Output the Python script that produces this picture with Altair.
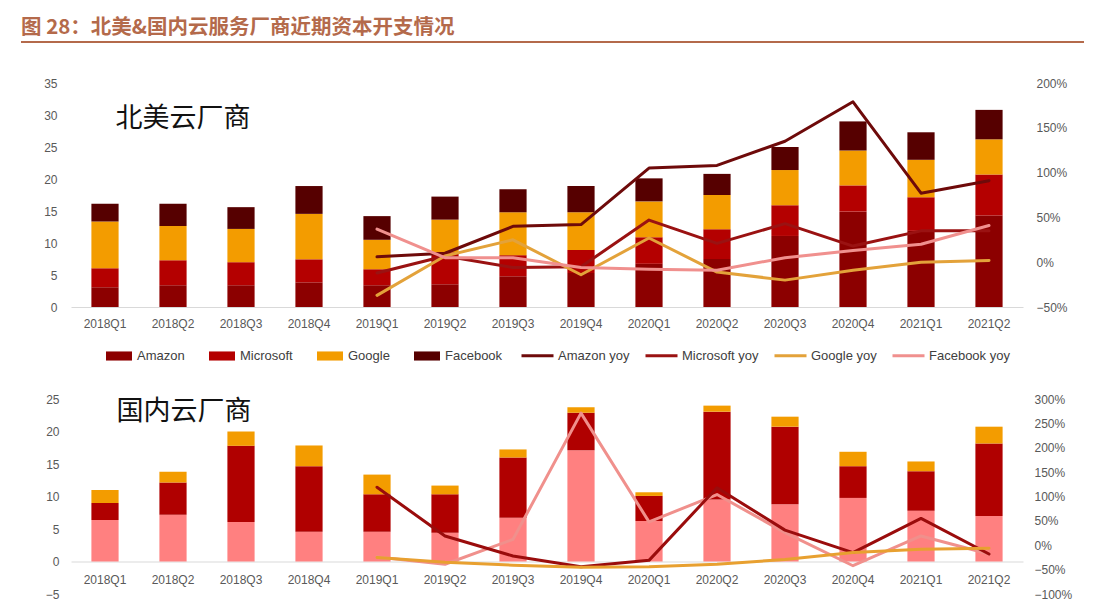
import altair as alt
import pandas as pd

# ---------------- data ----------------
quarters = ["2018Q1", "2018Q2", "2018Q3", "2018Q4", "2019Q1", "2019Q2", "2019Q3",
            "2019Q4", "2020Q1", "2020Q2", "2020Q3", "2020Q4", "2021Q1", "2021Q2"]
yoy_quarters = quarters[4:]

us_series = ["Amazon", "Microsoft", "Google", "Facebook"]
amazon = [3.1, 3.4, 3.4, 3.85, 3.4, 3.55, 4.8, 5.3, 6.75, 7.5, 11.1, 14.9, 11.9, 14.3]
microsoft = [2.95, 3.9, 3.6, 3.6, 2.5, 5.0, 3.3, 3.6, 4.15, 4.65, 4.8, 4.1, 5.25, 6.4]
google = [7.3, 5.35, 5.2, 7.1, 4.6, 5.1, 6.7, 5.9, 5.6, 5.35, 5.5, 5.45, 5.85, 5.5]
facebook = [2.8, 3.5, 3.4, 4.35, 3.7, 3.6, 3.6, 4.1, 3.6, 3.3, 3.6, 4.55, 4.3, 4.6]

us_yoy_series = ["Amazon yoy", "Microsoft yoy", "Google yoy", "Facebook yoy"]
amazon_yoy = [0.06, 0.10, 0.40, 0.42, 1.05, 1.08, 1.35, 1.79, 0.77, 0.91]
microsoft_yoy = [-0.12, 0.07, -0.06, -0.05, 0.47, 0.21, 0.43, 0.18, 0.35, 0.35]
google_yoy = [-0.37, 0.07, 0.25, -0.14, 0.27, -0.11, -0.20, -0.09, 0.00, 0.02]
facebook_yoy = [0.37, 0.05, 0.05, -0.06, -0.08, -0.09, 0.05, 0.13, 0.20, 0.41]

cn_series = ["阿里巴巴", "腾讯", "百度"]
cn_a = [6.4, 7.2, 6.07, 4.58, 4.58, 4.43, 6.74, 17.13, 6.23, 9.52, 8.8, 9.78, 7.82, 7.0]
cn_b = [2.6, 4.95, 11.73, 10.08, 5.76, 5.91, 9.26, 5.77, 3.86, 13.53, 11.94, 4.88, 6.07, 11.16]
cn_c = [2.0, 1.65, 2.2, 3.19, 3.03, 1.34, 1.24, 0.82, 0.56, 0.93, 1.54, 2.22, 1.5, 2.58]

cn_yoy_series = ["阿里巴巴 yoy", "腾讯 yoy", "百度 yoy"]
cn_a_yoy = [-0.24, -0.39, 0.12, 2.71, 0.48, 1.04, 0.26, -0.42, 0.19, -0.18]
cn_b_yoy = [1.19, 0.19, -0.22, -0.44, -0.31, 1.18, 0.31, -0.15, 0.55, -0.18]
cn_c_yoy = [-0.25, -0.35, -0.41, -0.45, -0.44, -0.39, -0.29, -0.15, -0.08, -0.06]

fig_title = "图 28：北美&国内云服务厂商近期资本开支情况"
top_label = "北美云厂商"
bottom_label = "国内云厂商"

# ---------------- styles ----------------
us_colors = ["#8C0000", "#B40000", "#F39C00", "#560000"]
us_line_colors = ["#6E0A0A", "#9A1212", "#E3A23A", "#F0908E"]
cn_colors = ["#FF8080", "#B00000", "#F39C00"]
cn_line_colors = ["#F0908C", "#9A0C0C", "#E8A030"]
title_color = "#B46A4B"
label_font = "Liberation Sans"
cjk_font = "Noto Sans CJK SC"

W = 952
H_TOP = 224
H_BOT = 195


def long_bars(names, arrays, cats):
    rows = []
    for i, (n, arr) in enumerate(zip(names, arrays)):
        for q, v in zip(cats, arr):
            rows.append({"quarter": q, "series": n, "value": v, "ord": i})
    return pd.DataFrame(rows)


df_us = long_bars(us_series, [amazon, microsoft, google, facebook], quarters)
df_us_yoy = long_bars(us_yoy_series, [amazon_yoy, microsoft_yoy, google_yoy, facebook_yoy], yoy_quarters)
df_cn = long_bars(cn_series, [cn_a, cn_b, cn_c], quarters)
df_cn_yoy = long_bars(cn_yoy_series, [cn_a_yoy, cn_b_yoy, cn_c_yoy], yoy_quarters)

xscale = alt.Scale(paddingInner=0.6, paddingOuter=0.3)
rect_path = "M-1,-0.35H1V0.35H-1Z"

# ---------------- top panel ----------------
x_top = alt.X("quarter:N", sort=quarters, scale=xscale, title=None,
              axis=alt.Axis(labelAngle=0, domain=True, domainColor="#D9D9D9", ticks=False,
                            tickSize=0, labelPadding=11, grid=False))

bars_top = alt.Chart(df_us).mark_bar().encode(
    x=x_top,
    y=alt.Y("value:Q", stack="zero", scale=alt.Scale(domain=[0, 35], nice=False), title=None,
            axis=alt.Axis(values=[0, 5, 10, 15, 20, 25, 30, 35], domain=False, ticks=False, tickSize=0,
                          grid=False, labelPadding=14, labelFlush=False)),
    fill=alt.Fill("series:N", scale=alt.Scale(domain=us_series, range=us_colors),
                  legend=alt.Legend(orient="none", legendX=35, legendY=260, direction="horizontal",
                                    title=None, symbolType=rect_path, symbolSize=676,
                                    symbolStrokeWidth=0, columnPadding=24, labelOffset=5,
                                    padding=0)),
    order=alt.Order("ord:Q", sort="ascending"),
)

lines_top = alt.Chart(df_us_yoy).mark_line(strokeWidth=3, strokeJoin="round", strokeCap="round").encode(
    x=alt.X("quarter:N", sort=quarters, scale=xscale),
    y=alt.Y("value:Q", scale=alt.Scale(domain=[-0.5, 2.0], nice=False), title=None,
            axis=alt.Axis(orient="right", format=".0%", values=[-0.5, 0, 0.5, 1.0, 1.5, 2.0],
                          domain=False, ticks=False, tickSize=0, grid=False, labelPadding=13,
                          labelFlush=False)),
    stroke=alt.Stroke("series:N", scale=alt.Scale(domain=us_yoy_series, range=us_line_colors),
                      legend=alt.Legend(orient="none", legendX=449, legendY=255, direction="horizontal",
                                        title=None, symbolType="stroke", symbolSize=1024,
                                        symbolStrokeWidth=3, columnPadding=9, labelOffset=3,
                                        padding=0)),
    order=alt.Order("ord:Q"),
)

title_layer = alt.Chart(pd.DataFrame({"t": [fig_title]})).mark_text(
    align="left", baseline="middle", font=cjk_font, fontSize=20.5, fontWeight="bold", color=title_color
).encode(x=alt.value(-50), y=alt.value(-55), text="t:N")

rule_layer = alt.Chart(pd.DataFrame({"t": [fig_title]})).mark_rule(
    color=title_color, strokeWidth=2
).encode(x=alt.value(-50), x2=alt.value(1013), y=alt.value(-41))

top_text = alt.Chart(pd.DataFrame({"t": [top_label]})).mark_text(
    align="center", baseline="middle", font=cjk_font, fontSize=27, color="#111111"
).encode(x=alt.value(112), y=alt.value(36), text="t:N")

top = alt.layer(bars_top, lines_top, top_text, title_layer, rule_layer).resolve_scale(
    y="independent").properties(width=W, height=H_TOP)

# ---------------- bottom panel ----------------
x_bot = alt.X("quarter:N", sort=quarters, scale=xscale, title=None,
              axis=alt.Axis(labelAngle=0, domain=True, domainColor="#D9D9D9", ticks=False,
                            tickSize=0, labelPadding=13, grid=False, offset=-32.5))

bars_bot = alt.Chart(df_cn).mark_bar().encode(
    x=x_bot,
    y=alt.Y("value:Q", stack="zero", scale=alt.Scale(domain=[-5, 25], nice=False), title=None,
            axis=alt.Axis(values=[-5, 0, 5, 10, 15, 20, 25], domain=False, ticks=False, tickSize=0,
                          grid=False, labelPadding=12, labelFlush=False)),
    fill=alt.Fill("series:N", scale=alt.Scale(domain=cn_series, range=cn_colors), legend=None),
    order=alt.Order("ord:Q", sort="ascending"),
)

lines_bot = alt.Chart(df_cn_yoy).mark_line(strokeWidth=3, strokeJoin="round", strokeCap="round").encode(
    x=alt.X("quarter:N", sort=quarters, scale=xscale),
    y=alt.Y("value:Q", scale=alt.Scale(domain=[-1.0, 3.0], nice=False), title=None,
            axis=alt.Axis(orient="right", format=".0%",
                          values=[-1.0, -0.5, 0, 0.5, 1.0, 1.5, 2.0, 2.5, 3.0],
                          domain=False, ticks=False, tickSize=0, grid=False, labelPadding=11,
                          labelFlush=False)),
    stroke=alt.Stroke("series:N", scale=alt.Scale(domain=cn_yoy_series, range=cn_line_colors),
                      legend=None),
    order=alt.Order("ord:Q"),
)

bot_text = alt.Chart(pd.DataFrame({"t": [bottom_label]})).mark_text(
    align="center", baseline="middle", font=cjk_font, fontSize=27, color="#111111"
).encode(x=alt.value(113), y=alt.value(13), text="t:N")

bottom = alt.layer(bars_bot, lines_bot, bot_text).resolve_scale(
    y="independent").properties(width=W, height=H_BOT)

chart = alt.vconcat(top, bottom, spacing=30).resolve_scale(
    fill="independent", stroke="independent"
).resolve_legend(fill="independent", stroke="independent").properties(
    padding={"left": 12, "top": 10, "right": 0, "bottom": 0}
).configure_view(stroke=None).configure_axis(
    labelFont=label_font, labelFontSize=12, labelColor="#595959"
).configure_legend(
    labelFont=label_font, labelFontSize=13, labelColor="#404040"
)

chart.save("out.html", embed_options={"renderer": "svg", "actions": False})
